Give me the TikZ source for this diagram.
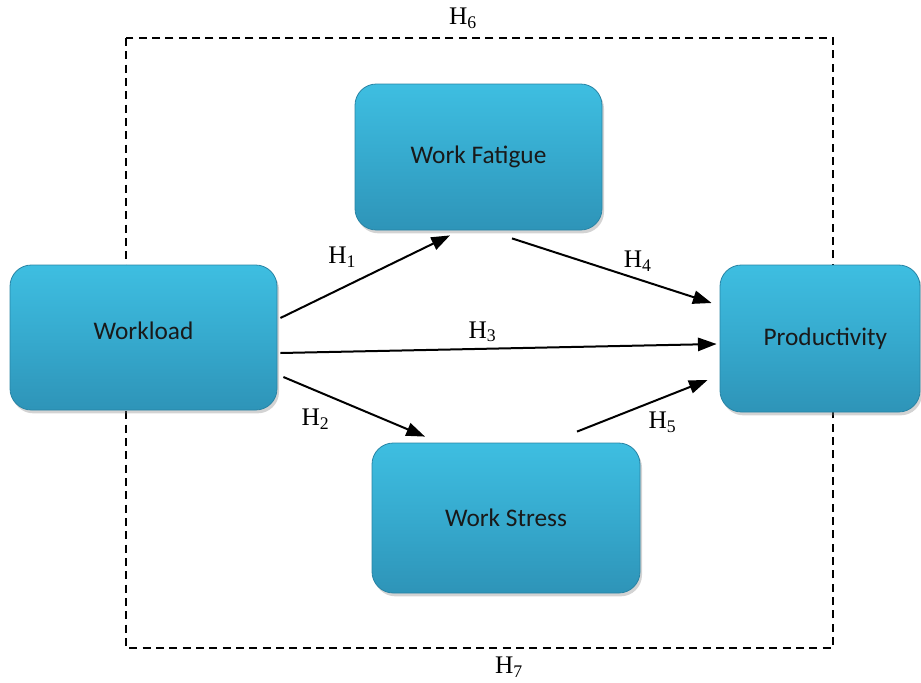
\documentclass[tikz,border=0pt]{standalone}
\usepackage{fontspec}
\setmainfont{Liberation Serif}
\newfontfamily\boxfont{Carlito}
\definecolor{boxtop}{RGB}{62, 190, 225}
\definecolor{boxmid}{RGB}{54, 170, 206}
\definecolor{boxbot}{RGB}{46, 148, 184}
\definecolor{boxedge}{RGB}{40, 132, 165}
\usetikzlibrary{arrows.meta,positioning,calc,shadows}

\tikzset{
    varbox/.style={rectangle, rounded corners=16pt, draw=boxedge, line width=0.6pt,
        top color=boxtop, bottom color=boxbot, middle color=boxmid, inner sep=0pt,
        drop shadow={opacity=0.35, shadow xshift=1.5pt, shadow yshift=-2.5pt},
        font=\boxfont\fontsize{19}{22}\selectfont, text=black!90},
    hyparrow/.style={-{Triangle[length=14pt,width=10pt]}, line width=1.5pt},
    hyplabel/.style={font=\fontsize{19}{22}\selectfont, inner sep=2pt},
    dashbox/.style={dashed, dash pattern=on 6pt off 4pt, line width=1.2pt}
}

\begin{document}
\begin{tikzpicture}[x=0.75pt, y=-0.75pt]
    \useasboundingbox (0,0) rectangle (921,682);

    % Total effect frame
    \draw[dashbox] (126,38) rectangle (833,648);
    \node[hyplabel] (h6) at (463,18) {H\textsubscript{6}};
    \node[hyplabel] (h7) at (509,667) {H\textsubscript{7}};

    % Variables
    \node[varbox, minimum width=200.25pt, minimum height=108.75pt] (workload) at (143.5,337.5) {\raisebox{10pt}{Workload}};
    \node[varbox, minimum width=185.25pt, minimum height=109.5pt] (fatigue) at (478.5,157) {Work Fatigue};
    \node[varbox, minimum width=150pt, minimum height=110.25pt] (prod) at (820,338.5) {\hspace*{8pt}Productivity};
    \node[varbox, minimum width=201pt, minimum height=112.5pt] (stress) at (506,518) {Work Stress};

    % Hypotheses
    \draw[hyparrow] ([shift={(3,-19.5)}]workload.east) -- ([shift={(-28.5,5)}]fatigue.south)
        node[hyplabel, midway, above left=4pt and 4pt] (h1) {H\textsubscript{1}};
    \draw[hyparrow] ([shift={(6,39.5)}]workload.east) -- ([shift={(-81,-6)}]stress.north)
        node[hyplabel, midway, xshift=-29pt, yshift=-9.5pt] (h2) {H\textsubscript{2}};
    \draw[hyparrow] ([shift={(3,15.5)}]workload.east) -- ([shift={(-3,5.5)}]prod.west)
        node[hyplabel, midway, above=2pt, xshift=-12pt] (h3) {H\textsubscript{3}};
    \draw[hyparrow] ([shift={(33.5,8)}]fatigue.south) -- ([shift={(-8,-35.5)}]prod.west)
        node[hyplabel, midway, xshift=19.5pt, yshift=7pt] (h4) {H\textsubscript{4}};
    \draw[hyparrow] ([shift={(71,-11)}]stress.north) -- ([shift={(-12,41.5)}]prod.west)
        node[hyplabel, midway, below right=2pt and 2pt] (h5) {H\textsubscript{5}};
\end{tikzpicture}
\end{document}
